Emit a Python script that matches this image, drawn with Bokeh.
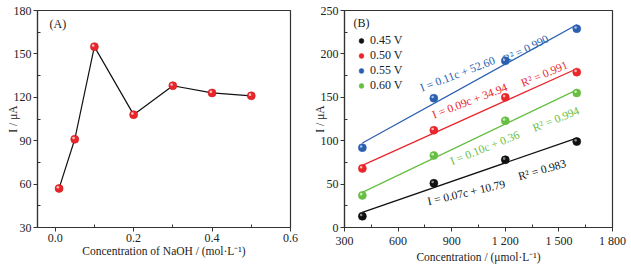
import numpy as np
from bokeh.plotting import figure
from bokeh.layouts import row
from bokeh.models import FixedTicker, Range1d, Label, Legend, LegendItem
from bokeh.core.properties import value
from bokeh.embed import file_html
from bokeh.resources import INLINE

# ---- data (A)
naoh = [0.01, 0.05, 0.1, 0.2, 0.3, 0.4, 0.5]
current_a = [57, 91, 155, 108, 128, 123, 121]
xticks_a = [0.0, 0.2, 0.4, 0.6]
xtick_labels_a = ["0.0", "0.2", "0.4", "0.6"]
yticks_a = [30, 60, 90, 120, 150, 180]

# ---- data (B)
conc = [400, 800, 1200, 1600]
i_045 = [13, 51, 78, 99]
i_050 = [68, 112, 150, 179]
i_055 = [92, 149, 192, 229]
i_060 = [37, 83, 123, 155]
series_names = ["0.45 V", "0.50 V", "0.55 V", "0.60 V"]
equations = ["I = 0.07c + 10.79", "I = 0.09c + 34.94", "I = 0.11c + 52.60", "I = 0.10c + 0.36"]
r2_texts = ["R² = 0.983", "R² = 0.991", "R² = 0.990", "R² = 0.994"]
xticks_b = [300, 600, 900, 1200, 1500, 1800]
xtick_labels_b = ["300", "600", "900", "1 200", "1 500", "1 800"]
yticks_b = [0, 50, 100, 150, 200, 250]

FONT = "Liberation Serif"
TXT = "#222222"
colors = ["#111111", "#e8262b", "#2b5fb0", "#68be44"]
hi_colors = ["#9a9a9a", "#ffc4c4", "#b4ccf6", "#d4f6c0"]


def style(p, xtitle):
    p.outline_line_color = "#333333"
    p.outline_line_width = 1.2
    p.grid.visible = False
    p.background_fill_color = "white"
    p.border_fill_color = "white"
    p.xaxis.axis_label = xtitle
    p.yaxis.axis_label = "I / μA"
    for ax in (p.xaxis[0], p.yaxis[0]):
        ax.axis_line_color = "#333333"
        ax.axis_line_width = 1.2
        ax.major_tick_out = 4
        ax.major_tick_in = 0
        ax.minor_tick_in = 3
        ax.minor_tick_out = 0
        ax.major_tick_line_color = "#333333"
        ax.minor_tick_line_color = "#333333"
        ax.major_label_text_font = FONT
        ax.major_label_text_font_size = "12px"
        ax.major_label_text_color = TXT
        ax.major_label_standoff = 2
        ax.axis_label_text_font = FONT
        ax.axis_label_text_font_size = "11.5px"
        ax.axis_label_text_font_style = "normal"
        ax.axis_label_text_color = TXT
        ax.axis_label_standoff = 0
    p.yaxis[0].axis_label_standoff = -8


def sphere(p, xs, ys, col, edge, hc, dx, dy, legend_item=None):
    r = p.scatter(xs, ys, size=8, fill_color=col, line_color=edge, line_width=0.6)
    hx = np.asarray(xs, dtype=float) - dx
    hy = np.asarray(ys, dtype=float) + dy
    p.scatter(hx, hy, size=2.6, fill_color=hc, line_color=None, fill_alpha=0.9)
    return r


# ---------------- Panel A
pa = figure(width=310, height=265, output_backend="svg", toolbar_location=None,
            x_range=Range1d(-0.045, 0.6), y_range=Range1d(30, 180),
            min_border_left=37, min_border_right=20, min_border_top=10, min_border_bottom=37)
style(pa, "Concentration of NaOH / (mol·L⁻¹)")
pa.xaxis.ticker = FixedTicker(ticks=xticks_a, minor_ticks=[0.1, 0.3, 0.5])
pa.xaxis.major_label_overrides = {t: l for t, l in zip(xticks_a, xtick_labels_a)}
pa.yaxis.ticker = FixedTicker(ticks=yticks_a, minor_ticks=[45, 75, 105, 135, 165])
pa.line(naoh, current_a, line_color="#111111", line_width=1.2)
# highlight offset of ~1.2 px expressed in data units
sphere(pa, naoh, current_a, "#e8262b", "#cc1c1c", "#ffd4d4", 0.0031, 0.83)
pa.add_layout(Label(x=12, y=197, x_units="screen", y_units="screen", text="(A)",
                    text_font=FONT, text_font_size="12px", text_color=TXT))

# ---------------- Panel B
pb = figure(width=321, height=265, output_backend="svg", toolbar_location=None,
            x_range=Range1d(300, 1800), y_range=Range1d(0, 250),
            min_border_left=31, min_border_right=19, min_border_top=10, min_border_bottom=37)
style(pb, "Concentration / (μmol·L⁻¹)")
pb.xaxis.ticker = FixedTicker(ticks=xticks_b, minor_ticks=[450, 750, 1050, 1350, 1650])
pb.xaxis.major_label_overrides = {t: l for t, l in zip(xticks_b, xtick_labels_b)}
pb.yaxis.ticker = FixedTicker(ticks=yticks_b, minor_ticks=[25, 75, 125, 175, 225])

all_series = [i_045, i_050, i_055, i_060]
items = []
cx = np.array(conc, dtype=float)
for ys, name, col, hc in zip(all_series, series_names, colors, hi_colors):
    k, b = np.polyfit(cx, np.array(ys, dtype=float), 1)
    pb.line([cx[0], cx[-1]], [k * cx[0] + b, k * cx[-1] + b], line_color=col, line_width=1.3)
    r = sphere(pb, conc, ys, col, col, hc, 6.6, 1.4)
    items.append(LegendItem(label=name, renderers=[r]))

# annotation anchor positions (data coords, left end of baseline) and angles (deg)
eq_x = [765, 793, 726, 894]
eq_y = [30, 129.6, 160.6, 76]
eq_ang = [13, 21, 21, 22]
r2_x = [1273, 1291, 1190, 1355]
r2_y = [58.8, 166, 193.5, 114.3]
r2_ang = [16, 23, 26, 22]
for i in range(4):
    pb.text([eq_x[i]], [eq_y[i]], text=[equations[i]], angle=np.deg2rad(eq_ang[i]),
            text_font=value(FONT), text_font_size="11.5px", text_color=colors[i],
            text_baseline="alphabetic", text_align="left")
    pb.text([r2_x[i]], [r2_y[i]], text=[r2_texts[i]], angle=np.deg2rad(r2_ang[i]),
            text_font=value(FONT), text_font_size="11.5px", text_color=colors[i],
            text_baseline="alphabetic", text_align="left")

leg = Legend(items=items, location=(11, 134), background_fill_alpha=0, border_line_color=None,
             label_text_font=FONT, label_text_font_size="12px", label_text_color=TXT,
             glyph_width=12, glyph_height=15, label_height=15, spacing=0, padding=0,
             margin=0, label_standoff=3)
pb.add_layout(leg)
pb.add_layout(Label(x=9, y=198, x_units="screen", y_units="screen", text="(B)",
                    text_font=FONT, text_font_size="12px", text_color=TXT))

layout = row(pa, pb, spacing=0)
open("out.html", "w").write(file_html(layout, INLINE))
